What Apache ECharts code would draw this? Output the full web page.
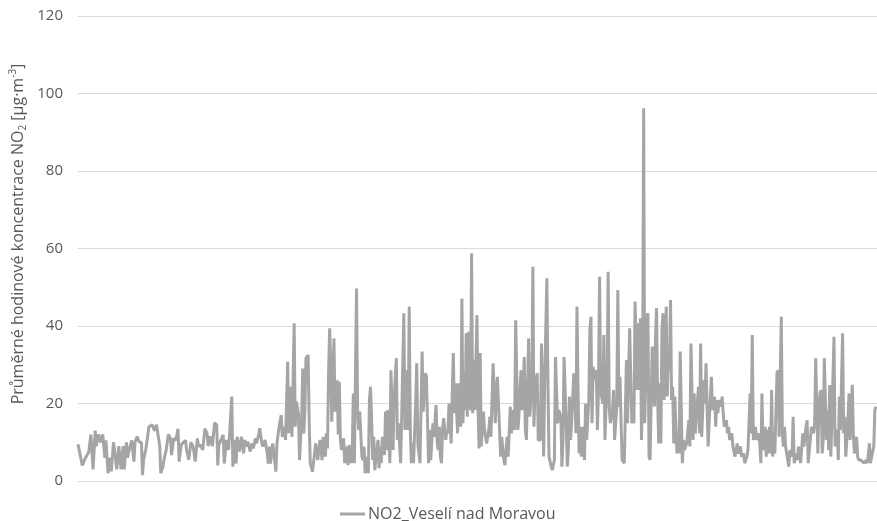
<!DOCTYPE html>
<html>
<head>
<meta charset="utf-8">
<script src="https://cdn.jsdelivr.net/npm/echarts@6/dist/echarts.min.js"></script>
<style>
html,body{margin:0;padding:0;background:#fff;}
#chart{width:877px;height:521px;}
</style>
</head>
<body>
<div id="chart"></div>
<script>
// Hour index of each reading (time along the hidden x axis)
var hours = [
0,4,7,10,12,14,16,17,19,21,23,25,26,28,30,31,33,34,36,38,40,42,43,45,46,48,50,52,53,55,57,59,60,61,63,66,67,69,71,73,74,76,77,79,80,82,84,86,87,89,91,93,94,96,98,100,101,103,105,107,109,111,112,114,116,118,120,121,123,125,127,129,130,131,
132,135,136,138,140,141,143,144,145,147,148,150,152,154,155,157,158,160,162,163,165,166,168,169,171,172,174,176,177,178,179,181,182,184,185,187,189,190,192,193,195,196,197,198,199,201,202,203,205,206,208,209,210,211,212,214,215,216,218,220,221,223,
225,227,228,230,231,232,233,234,235,236,237,238,239,241,242,243,244,245,247,248,250,251,252,254,255,256,257,259,260,261,262,264,265,266,267,269,270,271,272,273,274,275,276,278,279,280,281,282,283,285,286,287,288,290,291,293,294,296,297,298,300,301,303,304,306,307,308,309,310,311,312,314,315,316,318,320,321,323,324,326,
327,328,330,331,333,334,335,336,337,338,339,340,342,343,344,345,347,348,349,350,351,353,354,356,357,358,359,360,361,362,363,365,366,367,368,369,371,372,373,374,375,377,378,380,382,383,384,385,386,388,389,390,392,393,394,396,397,399,400,402,403,405,406,407,409,410,411,412,413,415,416,417,419,420,422,423,424,425,427,428,
430,431,433,434,436,437,438,440,441,443,444,446,447,449,450,451,452,454,455,456,457,458,459,461,462,463,464,465,466,467,468,469,471,472,473,475,476,477,478,479,480,482,483,484,485,486,488,489,490,492,493,494,495,497,498,499,501,502,503,504,505,506,508,510,511,512,513,515,516,517,518,520,521,522,523,524,525,526,527,528,529,530,531,
532,533,534,536,537,538,539,540,541,542,543,544,545,546,547,548,549,550,551,552,553,554,555,557,558,559,560,562,563,564,566,568,569,570,572,573,574,575,577,578,579,580,582,583,584,585,586,588,589,590,592,593,594,595,596,598,599,600,601,603,604,605,606,608,609,611,613,614,616,617,619,620,622,623,625,626,627,628,630,631,633,
634,635,636,637,639,640,641,642,643,644,645,646,647,648,650,651,652,654,655,656,657,658,660,661,662,664,665,666,668,669,670,672,674,675,677,678,679,681,682,684,685,686,688,689,690,691,692,693,694,696,697,698,699,700,701,703,704,706,707,708,709,711,712,713,714,716,717,718,720,721,722,724,725,726,728,729,731,733,734,736,737,738,740,741,742
];
// NO2 hourly concentrations [µg·m-3]
var no2 = [
9.5,4,6,7.5,12,3,13,9,12,10,12,6,10.5,2,6,2.5,10,8,3,9,3,9,3,10,6,8.5,10.5,5,10,11.5,10,10,1.5,5.5,8,14,13.5,14.5,13,14.5,14.5,9,2,3.7,5.5,8,12,11,6.7,11,10.5,13.5,5,9.3,10,10.5,8,5.5,10,9,5,11,9,9.3,8,13.5,12.3,9,11.5,9,15,14.5,4,9.3,
9.7,11.9,4.5,10.6,8,12.3,21.8,3.7,10.6,4.5,11.4,7.6,11.4,7.1,10.6,8.9,10.2,7.6,9.7,8.4,11,9.7,11.9,13.6,9.7,8.9,10.6,7.1,4.5,8.9,4.5,9.7,7.6,2.4,9.7,14,17,11.4,14,10.6,30.8,12.3,24.3,18.3,11.4,40.7,14,20.5,17.5,5.4,16.2,29,12.3,18.3,31.7,32.5,14.9,4.5,2.4,7.1,9.7,5.4,
10.6,5.4,11.4,6.3,12.3,8.4,27.8,39.4,30.4,15.3,25.2,36.8,17.9,26,12,25.6,10.6,8,11,4.6,8.9,4.1,9.3,4.6,7.1,22.6,4.6,49.7,18.3,13.2,17.9,6.3,5.4,8.9,2,6.3,2,20.9,24.3,16.6,5.4,11.4,2.8,8,10.6,3.3,8.9,4.6,11.4,6.7,17.9,8,18.3,4.6,28.6,8,21.8,31.7,10.6,14.9,4.6,16.6,43.3,13.2,28.6,13.2,45,13.2,4.6,9.7,4.6,20,30.4,9.7,4.6,33.4,17.9,27.8,26.9,4.6,
13.2,5.4,14.9,11.4,19.6,9.7,8,14,6.3,4.6,13.2,16.2,10.6,13.2,12.3,20,9.7,22.6,33,17.5,25.2,12.3,25.2,14,47.1,14.9,27.8,18.3,38.1,16.6,38.5,18.3,58.8,17.5,31.2,18.3,42.8,18.3,8.4,33,8.9,17.9,13.2,9.7,13.2,16.6,11.4,11.4,30.4,14.9,23.5,26.9,13.2,6.3,11.4,5.4,4.1,11.4,6.3,19.2,12.3,18.3,13.2,41.5,13.2,16.6,23.5,28.6,18.3,32,13.2,10.6,36.8,16.6,23.5,55.3,14,24.3,27.8,10.6,
10.6,35.5,6.3,26,52.3,25.2,6.3,3.7,2.8,5.4,32,14.9,18.3,16.6,3.7,10.6,32,14.9,3.7,8,21.8,10.6,14.9,27.8,23.5,12.3,45,23.5,7.1,14,6.3,14,5.4,20,10.6,20.9,39,42.4,14.9,29.5,26,28.6,13.2,23.5,52.7,23.5,20,37.7,10.6,26.9,54,19.2,14.9,18.3,23.5,10.6,19.2,49.3,19.2,26.9,14.9,5.4,4.6,31.2,14.9,27.8,39.4,14.9,18.3,14.9,46.3,23.5,40.7,23.5,42,10.6,23.5,96.2,14.9,26.9,42.4,43.3,6.3,
5.4,20.9,34.7,19.2,36.4,44.6,20.9,9.7,25.2,9.7,39,43.3,20.9,27.8,45,21.8,32.1,28.6,46.7,20.9,24.3,9.7,21.8,7.1,12.3,7.1,33.4,4.6,10.6,8,9.7,15.7,8.9,35.5,10.6,22.6,12.3,16.6,24.3,12.3,35.5,11.4,26,20,30.4,18.3,8.9,21.8,26.9,18.3,21.8,14,20.9,17.5,20.9,19.2,21.8,17.5,14,15.7,12.3,14,10.6,12.3,8.9,6.3,9.7,7.1,8.9,6.3,7.1,4.6,6.3,8,22.6,12.3,37.7,10.6,14,10.6,12.3,
9.7,4.6,22.6,8,14,6.3,13.2,7.1,14,7.1,23.5,6.3,12.3,7.1,27.8,28.6,11.4,42.4,12.3,8.9,14,8.9,5.4,3.7,8,6.3,16.6,4.6,7.1,5.4,8.9,4.6,12.3,8.9,14,15.7,4.6,10.6,14,12.3,14.9,31.7,7.1,18.3,22.6,23.5,7.1,10.6,31.7,10.6,18.3,8,24.8,6.3,14.9,37.2,8.9,13.2,5.4,21.8,13.2,38.1,12.3,16.6,6.3,15.7,22.6,10.6,24.8,12.3,7.1,11.4,6.3,5.4,5.4,5.4,4.6,5.4,4.6,9.7,4.6,6.3,8.9,18.3,19.2
];
var yTicks = [0, 20, 40, 60, 80, 100, 120];
var seriesName = 'NO2_Veselí nad Moravou';
var yTitle = 'Průměrné hodinové koncentrace NO{sub|2} [µg·m{sup|-3}]';

var FONT = '"Open Sans", "Noto Sans", sans-serif';
var chart = echarts.init(document.getElementById('chart'), null, {renderer: 'canvas'});
var pts = hours.map(function (h, i) { return [h, no2[i]]; });

chart.setOption({
  animation: false,
  backgroundColor: '#ffffff',
  grid: {left: 78, right: 0, top: 16, bottom: 40, containLabel: false},
  xAxis: {
    type: 'value', min: 0, max: 743,
    show: false
  },
  yAxis: {
    type: 'value',
    min: yTicks[0], max: yTicks[yTicks.length - 1], interval: 20,
    axisLine: {show: false},
    axisTick: {show: false},
    splitLine: {show: true, lineStyle: {color: '#d9d9d9', width: 1}},
    axisLabel: {color: '#595959', fontSize: 15, fontFamily: FONT, margin: 15}
  },
  legend: {
    left: 335, top: 501,
    icon: 'rect',
    itemWidth: 25, itemHeight: 3, itemGap: 10,
    textStyle: {color: '#595959', fontSize: 16, fontFamily: FONT, padding: [0, 0, 0, -2]},
    data: [seriesName]
  },
  graphic: [{
    type: 'text',
    x: 18, y: 234,
    rotation: Math.PI / 2,
    style: {
      text: yTitle,
      fill: '#595959',
      fontSize: 16,
      fontFamily: FONT,
      align: 'center',
      verticalAlign: 'middle',
      lineHeight: 20,
      rich: {
        sub: {fontSize: 10, fontFamily: FONT, fill: '#595959', lineHeight: 10, verticalAlign: 'bottom'},
        sup: {fontSize: 10, fontFamily: FONT, fill: '#595959', lineHeight: 10, verticalAlign: 'top'}
      }
    }
  }],
  series: [{
    name: seriesName,
    type: 'line',
    data: pts,
    symbol: 'none',
    showSymbol: false,
    lineStyle: {color: '#a5a5a5', width: 3},
    itemStyle: {color: '#a5a5a5'}
  }]
});
</script>
</body>
</html>
